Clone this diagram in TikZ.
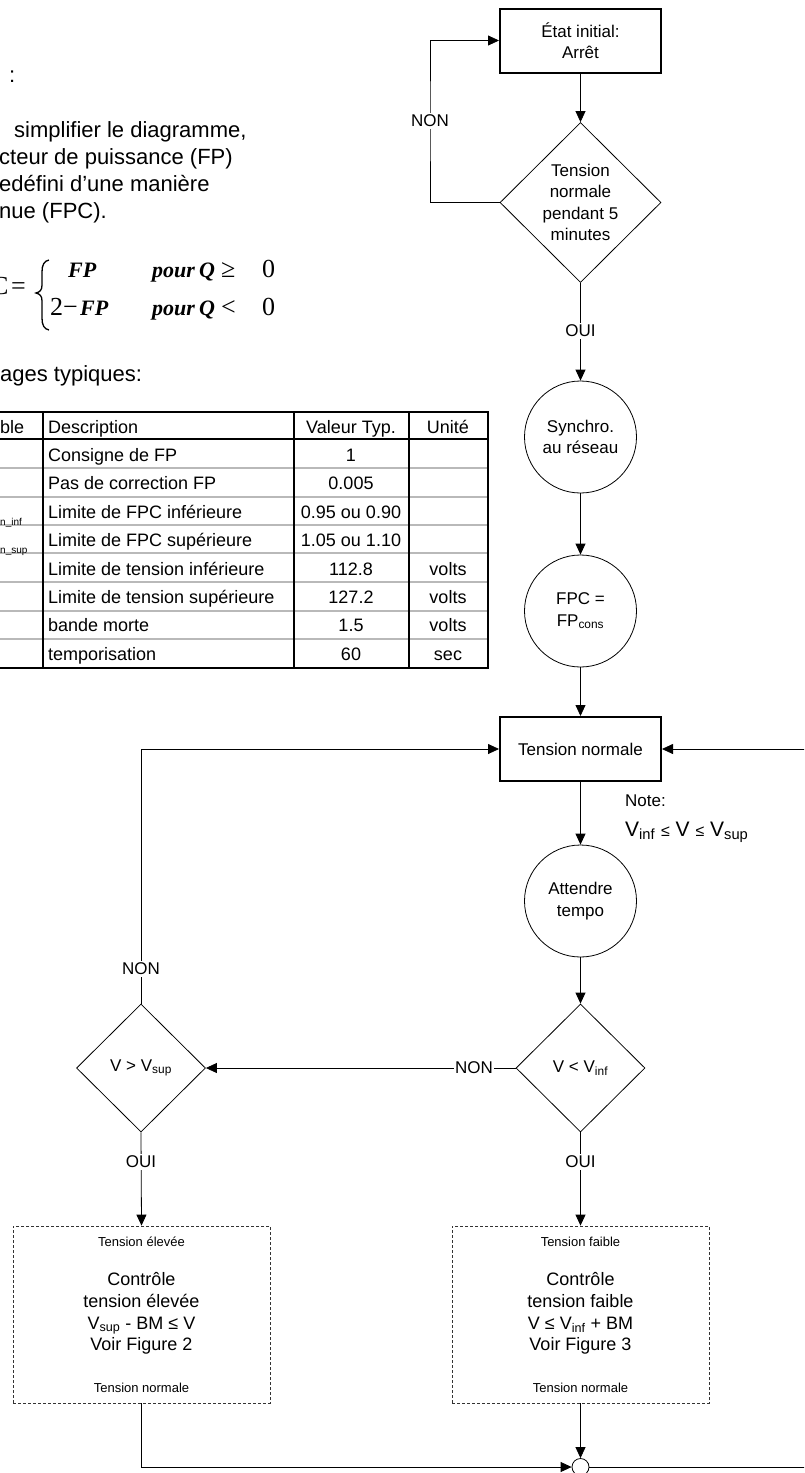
\documentclass[tikz,border=0pt]{standalone}
\usepackage{fontspec}
\setmainfont{Liberation Sans}
\newfontfamily\tnr{Liberation Serif}
\usetikzlibrary{arrows.meta,shapes.geometric}
\newcommand\fsz[2]{\fontsize{#1}{#2}\selectfont}
\begin{document}
\begin{tikzpicture}[x=1pt,y=-1pt,
  ln/.style={line width=0.8pt},
  arr/.style={line width=0.8pt,-{Triangle[length=11pt,width=10pt]}},
  sbox/.style={draw,line width=2pt,minimum width=161pt,minimum height=64pt,align=center,font=\fsz{17}{21.5}},
  dia/.style={draw,diamond,line width=0.8pt,inner sep=0pt},
  ftxt/.style={align=center,inner sep=0pt,font=\fsz{17}{21.5}},
  circ/.style={draw,circle,line width=0.8pt,minimum size=112pt,inner sep=0pt,align=center,font=\fsz{17}{21.5}},
  lab/.style={fill=white,inner sep=1.5pt,font=\fsz{17}{20}},
  dbox/.style={draw,dash pattern=on 3pt off 2pt,line width=0.8pt,draw=black!80,minimum width=257pt,minimum height=177pt},
  small/.style={inner sep=0pt,font=\fsz{13}{15}},
  big/.style={inner sep=0pt,align=center,font=\fsz{18}{21.7}},
  txt/.style={inner sep=0pt,anchor=base west,font=\fsz{22}{27}},
  fml/.style={inner sep=0pt,anchor=base west,font=\tnr\fsz{22}{26}\bfseries\itshape},
  fsym/.style={inner sep=0pt,anchor=base west,font=\tnr\fsz{26}{28}},
  tcell/.style={inner sep=0pt,font=\fsz{18}{20}},
]
\useasboundingbox (0,0) rectangle (804,1473);
\fill[white] (0,0) rectangle (804,1473);
\clip (0,0) rectangle (804,1473);

% ---- left text (cropped) ----
\node[txt] (t0) at (9,82) {:};
\node[txt] (t1) at (14,137) {simplifier le diagramme,};
\node[txt] (t2) at (-1,164) {cteur de puissance (FP)};
\node[txt] (t3) at (-1,191) {edéfini d’une manière};
\node[txt] (t4) at (-1,218) {nue (FPC).};

% ---- formula ----
\node[fsym] (fC) at (-9,294) {C};
\node[fsym] (feq) at (11,294) {=};
\draw[line width=1.3pt] (49,260) .. controls (44,261) and (42,265) .. (42,272)
  -- (42,285) .. controls (42,290) and (40,292) .. (36,293)
  .. controls (40,294) and (42,296) .. (42,301)
  -- (42,318) .. controls (42,325) and (44,329) .. (49,330);
\node[fml] (fFP1) at (68,277) {FP};
\node[fml] (fp1) at (152,277) {pour};
\node[fml] (fq1) at (199,277) {Q};
\node[fsym] (fge) at (221,277) {≥};
\node[fsym] (f01) at (262,277) {0};
\node[fsym] (f2) at (50,315) {2};
\node[fsym] (fmin) at (63,315) {−};
\node[fml] (fFP2) at (80,315) {FP};
\node[fml] (fp2) at (152,315) {pour};
\node[fml] (fq2) at (199,315) {Q};
\node[fsym] (flt) at (221,315) {<};
\node[fsym] (f02) at (262,315) {0};

\node[txt] (t5) at (0,381) {ages typiques:};

% ---- table ----
\foreach \yy in {468.3,496.7,525,553.3,582.3,610.7,639.2}
  \draw[gray!55,line width=1.8pt] (-2,\yy) -- (487,\yy);
\draw[line width=2pt] (-2,439.3) -- (488,439.3);
\foreach \xx in {43,294,409}
  \draw[line width=1.6pt] (\xx,411.7) -- (\xx,667.6);
\draw[line width=2.2pt] (-2,411.7) -- (488,411.7) -- (488,667.6) -- (-2,667.6);

\node[tcell,anchor=base west] (hv) at (0,433.5) {ble};
\node[tcell,anchor=base west] (hd) at (48,433.5) {Description};
\node[tcell,anchor=base] (hval) at (351,433.5) {Valeur Typ.};
\node[tcell,anchor=base] (hu) at (448,433.5) {Unité};
\foreach \d/\v/\u [count=\i] in {
  Consigne de FP/1/{},
  Pas de correction FP/0.005/{},
  Limite de FPC inférieure/0.95 ou 0.90/{},
  Limite de FPC supérieure/1.05 ou 1.10/{},
  Limite de tension inférieure/112.8/volts,
  Limite de tension supérieure/127.2/volts,
  bande morte/1.5/volts,
  temporisation/60/sec}{
  \node[tcell,anchor=base west] (d\i) at (48,{439.3+28.4*(\i-0.5)+8}) {\d};
  \node[tcell,anchor=base] (v\i) at (351,{439.3+28.4*(\i-0.5)+8}) {\v};
  \node[tcell,anchor=base] (u\i) at (448,{439.3+28.4*(\i-0.5)+8}) {\u};
}
\node[inner sep=0pt,anchor=base west,font=\fsz{10}{12}] (c3) at (0,525) {n\_inf};
\node[inner sep=0pt,anchor=base west,font=\fsz{10}{12}] (c4) at (0,553) {n\_sup};

% ---- flowchart ----
\node[sbox] (init) at (580.5,40.5) {État initial:\\Arrêt};
\node[dia,minimum width=161pt,minimum height=160pt] (d1) at (580.5,202.5) {};
\node[ftxt] (d1t) at (d1.center) {Tension\\normale\\pendant 5\\minutes};
\node[circ] (syn) at (580.5,437) {Synchro.\\au réseau};
\node[circ] (fpc) at (580.5,611) {FPC =\\FP\textsubscript{cons}};
\node[sbox] (tn) at (580.5,749) {Tension normale};
\node[circ] (att) at (580.5,901) {Attendre\\tempo};
\node[dia,minimum width=129pt,minimum height=128pt] (d2) at (580.5,1068) {};
\node[ftxt] (d2t) at (d2.center) {V < V\textsubscript{inf}};
\node[dia,minimum width=129pt,minimum height=128pt] (d3) at (141,1068) {};
\node[ftxt] (d3t) at (d3.center) {V > V\textsubscript{sup}};
\node[dbox] (b1) at (141.5,1314.5) {};
\node[dbox] (b2) at (580.5,1314.5) {};
\node[small] (b1h) at (141.5,1242) {Tension élevée};
\node[big] (b1t) at (141.5,1313.5) {Contrôle\\tension élevée\\V\textsubscript{sup} - BM ≤ V\\Voir Figure 2};
\node[small] (b1f) at (141.5,1388) {Tension normale};
\node[small] (b2h) at (580.5,1242) {Tension faible};
\node[big] (b2t) at (580.5,1313.5) {Contrôle\\tension faible\\V ≤ V\textsubscript{inf} + BM\\Voir Figure 3};
\node[small] (b2f) at (580.5,1388) {Tension normale};
\node[draw,circle,ln,minimum size=17pt,inner sep=0pt,fill=white] (j) at (580.5,1467) {};

\node[inner sep=0pt,anchor=base west,font=\fsz{17}{20}] (note1) at (625,806) {Note:};
\node[inner sep=0pt,anchor=base west,font=\fsz{21}{24}] (note2) at (625,836) {V\textsubscript{inf} {\fsz{16}{18}≤} V {\fsz{16}{18}≤} V\textsubscript{sup}};

% ---- connectors ----
\draw[arr] (init) -- (d1);
\coordinate (nl) at (430,121);
\draw[arr] (d1.west) -| (nl) |- (init.west);
\node[lab] (non1) at (nl) {NON};
\draw[arr] (d1.south) -- (syn.north);
\node[lab] (oui1) at (580.5,331) {OUI};
\draw[arr] (syn) -- (fpc);
\draw[arr] (fpc) -- (tn);
\draw[arr] (tn) -- (att);
\draw[arr] (att) -- (d2);
\draw[arr] (d2.west) -- (d3.east);
\node[lab] (non2) at (474,1068) {NON};
\draw[arr] (d3.north) |- (tn.west);
\node[lab] (non3) at (141,969) {NON};
\draw[arr] (d3.south) -- (b1.north);
\node[lab] (oui2) at (141,1162) {OUI};
\draw[arr] (d2.south) -- (b2.north);
\node[lab] (oui3) at (580.5,1162) {OUI};
\draw[arr] (b1.south) |- (j.west);
\draw[arr] (b2.south) -- (j.north);
\coordinate (ret) at (830,1467);
\draw[arr] (j.east) -- (ret) |- (tn.east);
\end{tikzpicture}
\end{document}
